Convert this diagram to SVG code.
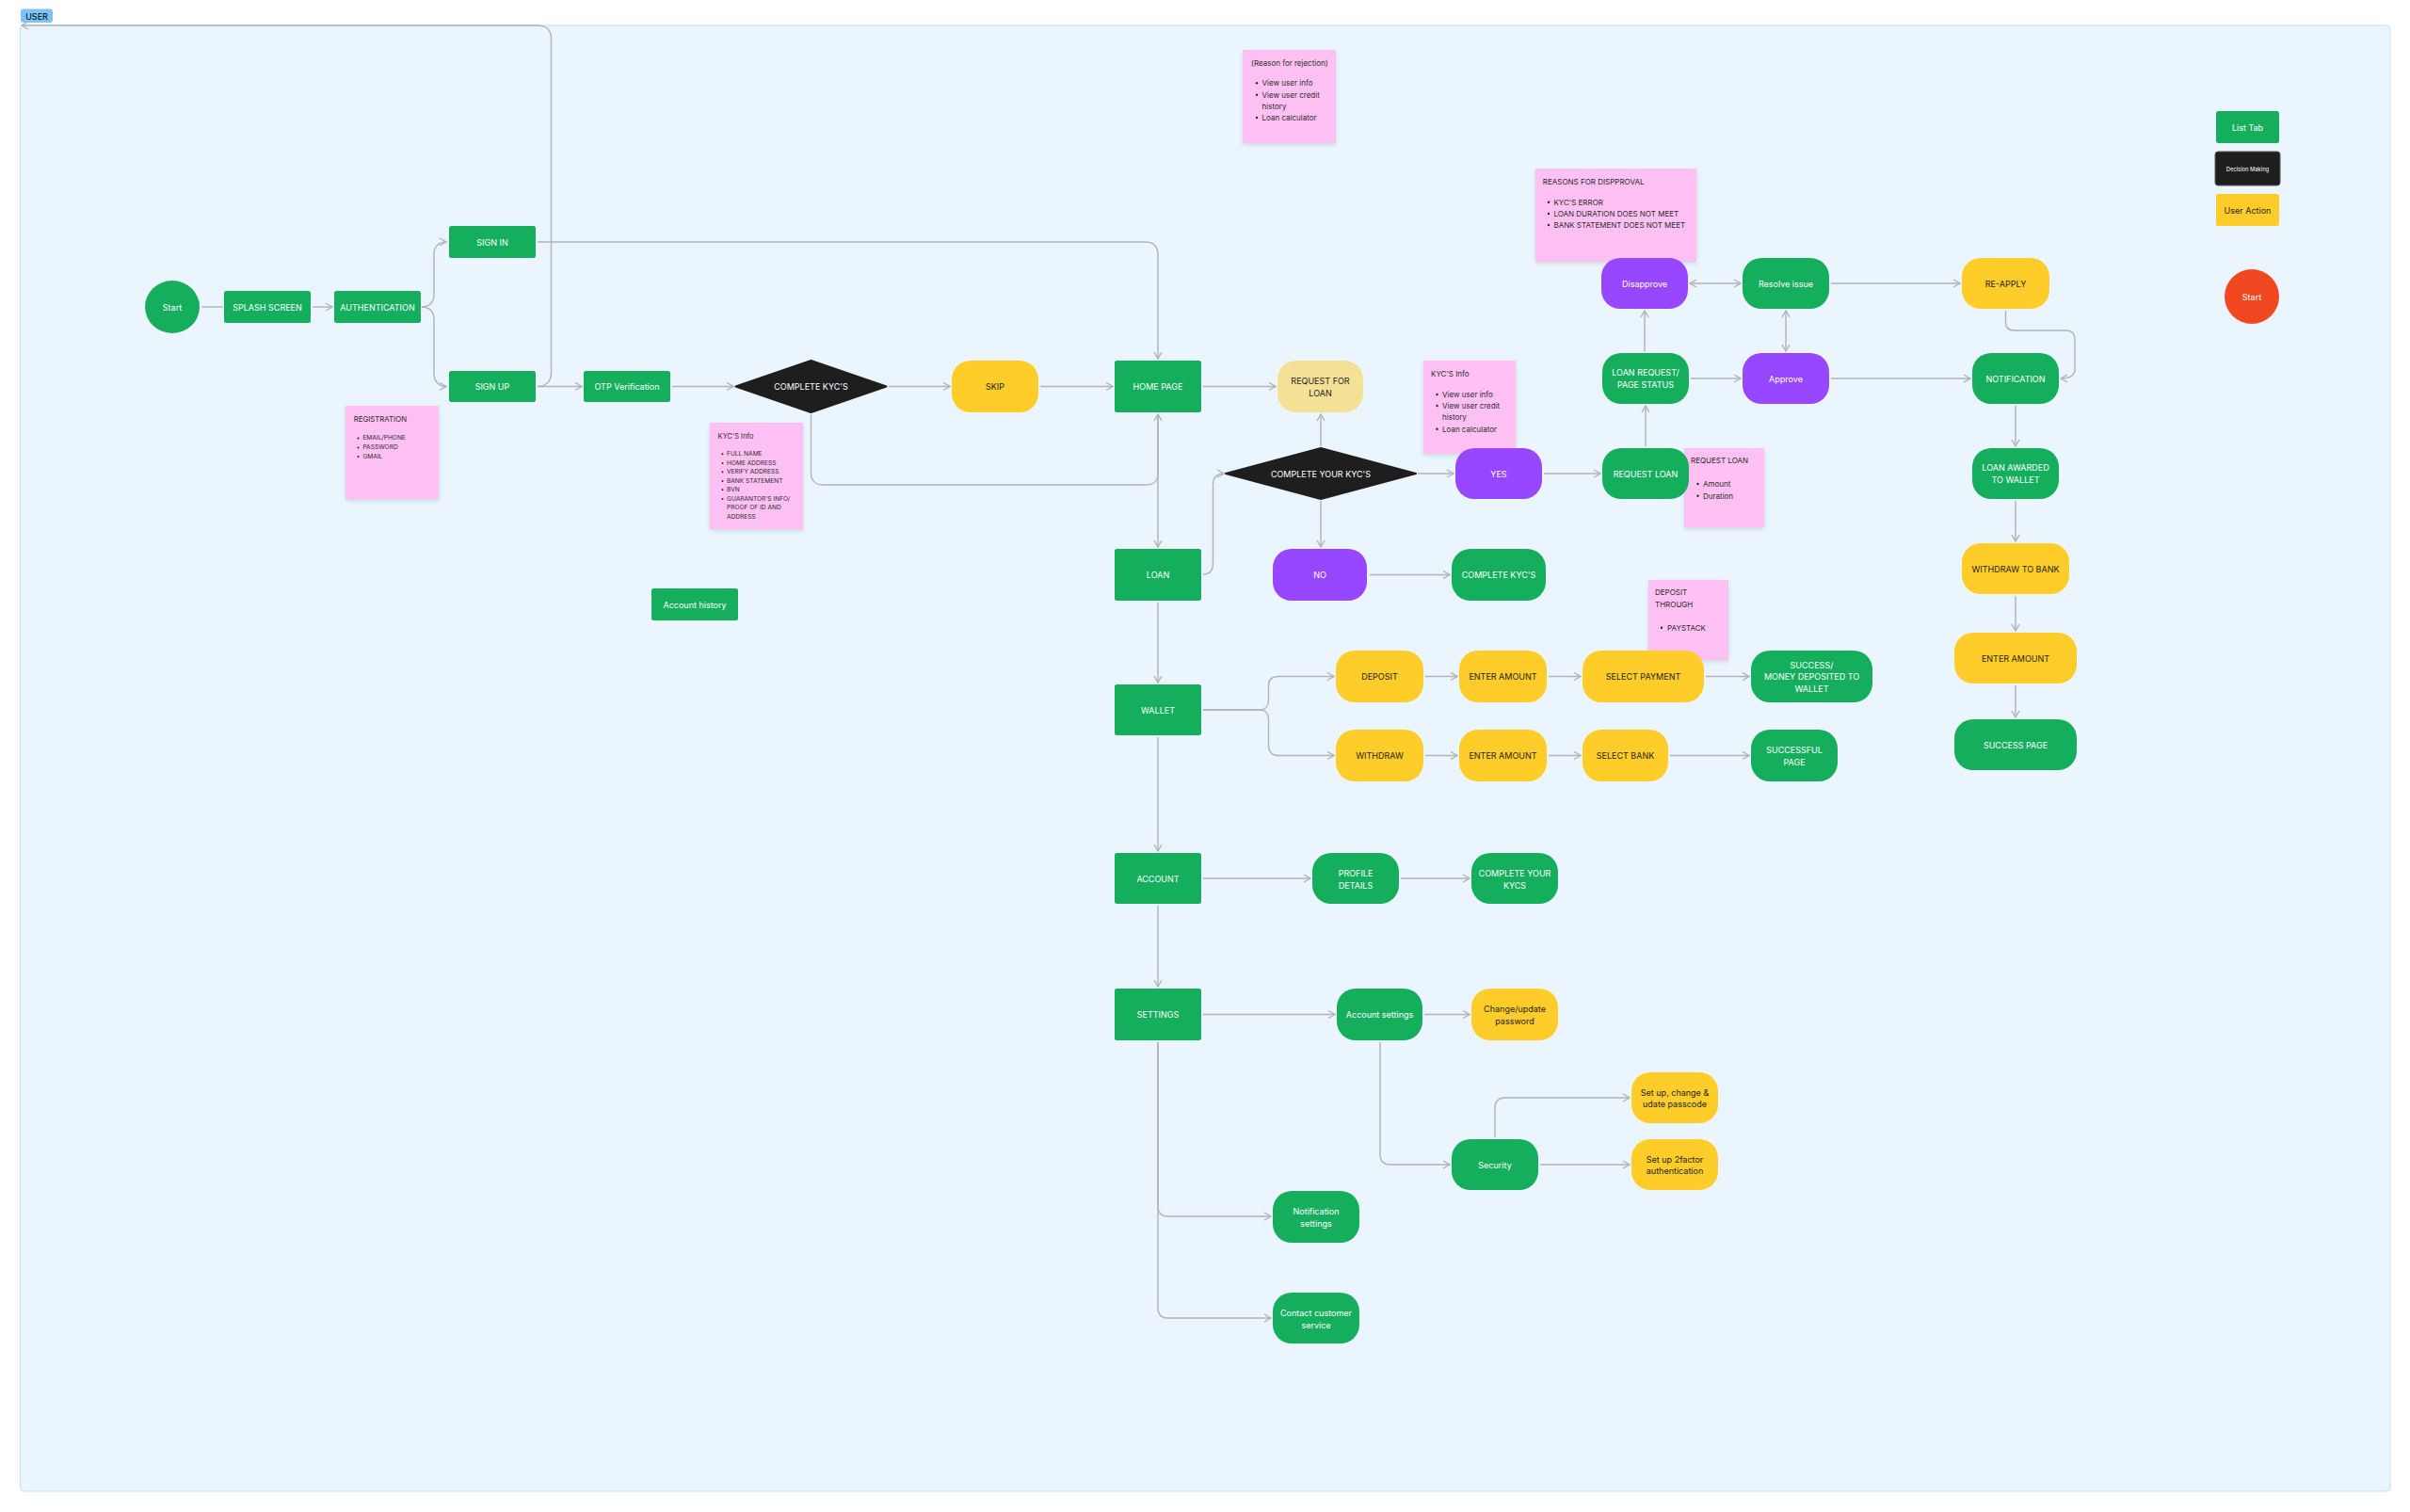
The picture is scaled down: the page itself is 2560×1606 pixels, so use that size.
<svg xmlns="http://www.w3.org/2000/svg" width="2560" height="1606" viewBox="0 0 2560 1606">
<defs>
<style>
.t{font-family:Inter,"Liberation Sans",sans-serif;font-size:9px;text-anchor:middle;dominant-baseline:central}
.w{fill:#ffffff}
.d{fill:#1E1E1E}
.g{fill:#14AE5C}
.y{fill:#FFCD29}
.py{fill:#F5E196}
.p{fill:#9747FF}
.k{fill:#1E1E1E}
.st{fill:#FFC1F3;filter:url(#sh)}
.n{font-family:Inter,"Liberation Sans",sans-serif;fill:#2b2b2b;dominant-baseline:central}
.n8{font-size:8px}
.n7{font-size:6.6px}
.b{fill:#2b2b2b}
.c{fill:none;stroke:#B3B3B3;stroke-width:1.4}
.a{marker-end:url(#ar)}
.aa{marker-end:url(#ar);marker-start:url(#ar)}
</style>
<marker id="ar" viewBox="0 0 10 10" refX="9" refY="5" markerWidth="10" markerHeight="10" markerUnits="userSpaceOnUse" orient="auto-start-reverse">
<path d="M2,1 L9,5 L2,9" fill="none" stroke="#B3B3B3" stroke-width="1.4"/>
</marker>
<filter id="sh" x="-10%" y="-10%" width="130%" height="130%">
<feDropShadow dx="0" dy="2" stdDeviation="2" flood-color="#000" flood-opacity="0.12"/>
</filter>
</defs>
<rect width="2560" height="1606" fill="#ffffff"/>
<g id="frame">
<rect x="21.5" y="27" width="2517.5" height="1557" rx="4" fill="#EBF5FE" stroke="#BDE3FF" stroke-width="1"/>
<rect x="22" y="9.5" width="34" height="14.5" rx="3" fill="#7CC4F8"/>
<text x="39" y="17" class="t" fill="#000">USER</text>
</g>

<g id="notes">
<g id="note-rejection">
<rect class="st" x="1320" y="53" width="99" height="99"/>
<text class="n n8" x="1329" y="67">(Reason for rejection)</text>
<circle class="b" cx="1335" cy="88.3" r="1.2"/><text class="n n8" x="1340.6" y="88.3">View user info</text>
<circle class="b" cx="1335" cy="100.7" r="1.2"/><text class="n n8" x="1340.6" y="100.7">View user credit</text>
<text class="n n8" x="1340.6" y="112.7">history</text>
<circle class="b" cx="1335" cy="125" r="1.2"/><text class="n n8" x="1340.6" y="125">Loan calculator</text>
</g>
<g id="note-disapproval">
<rect class="st" x="1631" y="179" width="171" height="99"/>
<text class="n n8" x="1638.8" y="193.3">REASONS FOR DISPPROVAL</text>
<circle class="b" cx="1645" cy="214.7" r="1.2"/><text class="n n8" x="1650.4" y="214.7">KYC'S ERROR</text>
<circle class="b" cx="1645" cy="227" r="1.2"/><text class="n n8" x="1650.4" y="227">LOAN DURATION DOES NOT MEET</text>
<circle class="b" cx="1645" cy="239" r="1.2"/><text class="n n8" x="1650.4" y="239">BANK STATEMENT DOES NOT MEET</text>
</g>
<g id="note-kyc2">
<rect class="st" x="1512" y="383" width="98" height="99"/>
<text class="n n8" x="1520" y="397.3">KYC'S Info</text>
<circle class="b" cx="1526.5" cy="419" r="1.2"/><text class="n n8" x="1532" y="419">View user info</text>
<circle class="b" cx="1526.5" cy="431" r="1.2"/><text class="n n8" x="1532" y="431">View user credit</text>
<text class="n n8" x="1532" y="443.3">history</text>
<circle class="b" cx="1526.5" cy="455.7" r="1.2"/><text class="n n8" x="1532" y="455.7">Loan calculator</text>
</g>
<g id="note-requestloan">
<rect class="st" x="1789" y="476" width="85" height="84"/>
<text class="n n8" x="1796" y="488.7">REQUEST LOAN</text>
<circle class="b" cx="1803.5" cy="514" r="1.2"/><text class="n n8" x="1809" y="514">Amount</text>
<circle class="b" cx="1803.5" cy="526.7" r="1.2"/><text class="n n8" x="1809" y="526.7">Duration</text>
</g>
<g id="note-deposit">
<rect class="st" x="1751" y="616" width="85" height="85"/>
<text class="n n8" x="1758" y="629.3">DEPOSIT</text>
<text class="n n8" x="1758" y="641.7">THROUGH</text>
<circle class="b" cx="1765" cy="666.7" r="1.2"/><text class="n n8" x="1771" y="666.7">PAYSTACK</text>
</g>
<g id="note-kyc1">
<rect class="st" x="754" y="449" width="99" height="113"/>
<text class="n" style="font-size:7.5px" x="762.6" y="463">KYC'S Info</text>
<circle class="b" cx="767.5" cy="482.3" r="1"/><text class="n n7" x="772" y="482.3">FULL NAME</text>
<circle class="b" cx="767.5" cy="492" r="1"/><text class="n n7" x="772" y="492">HOME ADDRESS</text>
<circle class="b" cx="767.5" cy="501.3" r="1"/><text class="n n7" x="772" y="501.3">VERIFY ADDRESS</text>
<circle class="b" cx="767.5" cy="511" r="1"/><text class="n n7" x="772" y="511">BANK STATEMENT</text>
<circle class="b" cx="767.5" cy="520.3" r="1"/><text class="n n7" x="772" y="520.3">BVN</text>
<circle class="b" cx="767.5" cy="530" r="1"/><text class="n n7" x="772" y="530">GUARANTOR'S INFO/</text>
<text class="n n7" x="772" y="539.3">PROOF OF ID AND</text>
<text class="n n7" x="772" y="548.7">ADDRESS</text>
</g>
<g id="note-registration">
<rect class="st" x="367" y="431" width="99" height="99"/>
<text class="n" style="font-size:7.8px" x="375.7" y="445.4">REGISTRATION</text>
<circle class="b" cx="380.5" cy="465.4" r="1"/><text class="n n7" x="385.4" y="465.4">EMAIL/PHONE</text>
<circle class="b" cx="380.5" cy="475.4" r="1"/><text class="n n7" x="385.4" y="475.4">PASSWORD</text>
<circle class="b" cx="380.5" cy="485" r="1"/><text class="n n7" x="385.4" y="485">GMAIL</text>
</g>
</g>

<g id="connectors">
<path class="c" d="M214,326 H237"/>
<path class="c a" d="M332,326 H353"/>
<path class="c a" d="M448,326 C456,326 461,321 461,313 V270 C461,262 466,257 474,257"/>
<path class="c a" d="M448,326 C456,326 461,331 461,339 V397 C461,405 466,410.5 474,410.5"/>
<path class="c a" d="M571,410.5 H618"/>
<path class="c a" d="M571,410.5 C580,410.5 585.5,405 585.5,396 V41 C585.5,32 580,27 571,27 H23"/>
<path class="c a" d="M571,257 H1216 C1225,257 1230,262 1230,271 V381"/>
<path class="c a" d="M714,410.5 H779"/>
<path class="c a" d="M944,410.5 H1009"/>
<path class="c a" d="M1105,410.5 H1182"/>
<path class="c a" d="M861.5,440 V503 C861.5,510 866,515 874,515 H1218 C1226,515 1230,510 1230,503 V440"/>
<path class="c a" d="M1230,440 V581"/>
<path class="c a" d="M1278,410.5 H1355"/>
<path class="c a" d="M1278,610 C1285,610 1288.5,606 1288.5,598 V515 C1288.5,507 1292,503 1300,503"/>
<path class="c a" d="M1403,474 V440"/>
<path class="c a" d="M1506,503 H1544"/>
<path class="c a" d="M1403,532 V581"/>
<path class="c a" d="M1455,610.5 H1540"/>
<path class="c a" d="M1640,503 H1700"/>
<path class="c a" d="M1748,474 V431"/>
<path class="c a" d="M1747,373 V330"/>
<path class="c a" d="M1796,402 H1849"/>
<path class="c aa" d="M1795,301 H1849"/>
<path class="c aa" d="M1897,330 V373"/>
<path class="c a" d="M1945,301 H2082"/>
<path class="c a" d="M1945,402 H2093"/>
<path class="c a" d="M2130.5,330 V343 C2130.5,348 2134,351 2140,351 H2195 C2201,351 2204,355 2204,361 V392 C2204,399 2199,402 2189,402"/>
<path class="c a" d="M2141,431 V474"/>
<path class="c a" d="M2141,532 V575"/>
<path class="c a" d="M2141,633 V670"/>
<path class="c a" d="M2141,728 V762"/>
<path class="c a" d="M1230,640 V725"/>
<path class="c a" d="M1278,754 H1338 C1344,754 1347.5,750 1347.5,744 V728 C1347.5,722 1351,718.5 1358,718.5 H1417"/>
<path class="c a" d="M1278,754 H1338 C1344,754 1347.5,758 1347.5,764 V792 C1347.5,798 1351,802.5 1358,802.5 H1417"/>
<path class="c a" d="M1514,718.5 H1548"/>
<path class="c a" d="M1645,718.5 H1679"/>
<path class="c a" d="M1812,718.5 H1858"/>
<path class="c a" d="M1514,802.5 H1548"/>
<path class="c a" d="M1645,802.5 H1679"/>
<path class="c a" d="M1774,802.5 H1858"/>
<path class="c a" d="M1230,783 V904"/>
<path class="c a" d="M1278,933 H1392"/>
<path class="c a" d="M1488,933 H1561"/>
<path class="c a" d="M1230,962 V1048"/>
<path class="c a" d="M1278,1077.5 H1418"/>
<path class="c a" d="M1513,1077.5 H1561"/>
<path class="c a" d="M1466,1107 V1227 C1466,1233 1470,1237 1476,1237 H1540"/>
<path class="c a" d="M1588,1208 V1176 C1588,1170 1592,1166 1598,1166 H1731"/>
<path class="c a" d="M1636,1237 H1731"/>
<path class="c a" d="M1230,1107 V1282 C1230,1288 1234,1292 1240,1292 H1350"/>
<path class="c a" d="M1230,1107 V1390 C1230,1396 1234,1400 1240,1400 H1350"/>
</g>

<g id="n-start"><ellipse class="g" cx="183" cy="326" rx="29" ry="28"/><text class="t w" x="183" y="326">Start</text></g>
<g id="n-splash"><rect class="g" x="238" y="309" width="92" height="34" rx="2.5"/><text class="t w" x="284" y="326">SPLASH SCREEN</text></g>
<g id="n-auth"><rect class="g" x="355" y="309" width="92" height="34" rx="2.5"/><text class="t w" x="401" y="326">AUTHENTICATION</text></g>
<g id="n-signin"><rect class="g" x="477" y="240" width="92" height="34" rx="2.5"/><text class="t w" x="523" y="257">SIGN IN</text></g>
<g id="n-signup"><rect class="g" x="477" y="394" width="92" height="33" rx="2.5"/><text class="t w" x="523" y="410.5">SIGN UP</text></g>
<g id="n-otp"><rect class="g" x="620" y="394" width="92" height="33" rx="2.5"/><text class="t w" x="666" y="410.5">OTP Verification</text></g>
<g id="n-kyc1"><polygon class="k" points="781.5,410.5 861.5,383 941.5,410.5 861.5,438" stroke="#1E1E1E" stroke-width="2" stroke-linejoin="round"/><text class="t w" x="861.5" y="410.5">COMPLETE KYC'S</text></g>
<g id="n-skip"><rect class="y" x="1011" y="383" width="92" height="55" rx="20"/><text class="t d" x="1057" y="410.5">SKIP</text></g>
<g id="n-home"><rect class="g" x="1184" y="383" width="92" height="55" rx="2.5"/><text class="t w" x="1230" y="410.5">HOME PAGE</text></g>
<g id="n-reqforloan"><rect class="py" x="1357" y="383" width="91" height="55" rx="20"/><text class="t d" x="1402.5" y="404.3">REQUEST FOR</text><text class="t d" x="1402.5" y="417">LOAN</text></g>
<g id="n-kyc2"><polygon class="k" points="1302,503 1403,476 1504,503 1403,530" stroke="#1E1E1E" stroke-width="2" stroke-linejoin="round"/><text class="t w" x="1403" y="503">COMPLETE YOUR KYC'S</text></g>
<g id="n-yes"><rect class="p" x="1546" y="476" width="92" height="54" rx="20"/><text class="t w" x="1592" y="503">YES</text></g>
<g id="n-requestloan"><rect class="g" x="1702" y="476" width="92" height="54" rx="20"/><text class="t w" x="1748" y="503">REQUEST LOAN</text></g>
<g id="n-loanstatus"><rect class="g" x="1702" y="375" width="92" height="54" rx="20"/><text class="t w" x="1748" y="395.7">LOAN REQUEST/</text><text class="t w" x="1748" y="408.3">PAGE STATUS</text></g>
<g id="n-disapprove"><rect class="p" x="1701" y="274" width="92" height="54" rx="20"/><text class="t w" x="1747" y="301">Disapprove</text></g>
<g id="n-resolve"><rect class="g" x="1851" y="274" width="92" height="54" rx="20"/><text class="t w" x="1897" y="301">Resolve issue</text></g>
<g id="n-approve"><rect class="p" x="1851" y="375" width="92" height="54" rx="20"/><text class="t w" x="1897" y="402">Approve</text></g>
<g id="n-reapply"><rect class="y" x="2084" y="274" width="93" height="54" rx="20"/><text class="t d" x="2130.5" y="301">RE-APPLY</text></g>
<g id="n-notification"><rect class="g" x="2095" y="375" width="92" height="54" rx="20"/><text class="t w" x="2141" y="402">NOTIFICATION</text></g>
<g id="n-awarded"><rect class="g" x="2095" y="476" width="92" height="54" rx="20"/><text class="t w" x="2141" y="496.7">LOAN AWARDED</text><text class="t w" x="2141" y="509.3">TO WALLET</text></g>
<g id="n-withdrawbank"><rect class="y" x="2084" y="577" width="114" height="54" rx="20"/><text class="t d" x="2141" y="604">WITHDRAW TO BANK</text></g>
<g id="n-enteramount3"><rect class="y" x="2076" y="672" width="130" height="54" rx="20"/><text class="t d" x="2141" y="699">ENTER AMOUNT</text></g>
<g id="n-successpage"><rect class="g" x="2076" y="764" width="130" height="54" rx="20"/><text class="t w" x="2141" y="791">SUCCESS PAGE</text></g>
<g id="n-loan"><rect class="g" x="1184" y="583" width="92" height="55" rx="2.5"/><text class="t w" x="1230" y="610.5">LOAN</text></g>
<g id="n-no"><rect class="p" x="1352" y="583" width="100" height="55" rx="20"/><text class="t w" x="1402" y="610.5">NO</text></g>
<g id="n-completekyc"><rect class="g" x="1542" y="583" width="100" height="55" rx="20"/><text class="t w" x="1592" y="610.5">COMPLETE KYC'S</text></g>
<g id="n-acchistory"><rect class="g" x="692" y="625" width="92" height="34" rx="2.5"/><text class="t w" x="738" y="642">Account history</text></g>
<g id="n-wallet"><rect class="g" x="1184" y="727" width="92" height="54" rx="2.5"/><text class="t w" x="1230" y="754">WALLET</text></g>
<g id="n-deposit"><rect class="y" x="1419" y="691" width="93" height="55" rx="20"/><text class="t d" x="1465.5" y="718.5">DEPOSIT</text></g>
<g id="n-enter1"><rect class="y" x="1550" y="691" width="93" height="55" rx="20"/><text class="t d" x="1596.5" y="718.5">ENTER AMOUNT</text></g>
<g id="n-selectpayment"><rect class="y" x="1681" y="691" width="129" height="55" rx="20"/><text class="t d" x="1745.5" y="718.5">SELECT PAYMENT</text></g>
<g id="n-success"><rect class="g" x="1860" y="691" width="129" height="55" rx="20"/><text class="t w" x="1924.5" y="706">SUCCESS/</text><text class="t w" x="1924.5" y="718.5">MONEY DEPOSITED TO</text><text class="t w" x="1924.5" y="731">WALLET</text></g>
<g id="n-withdraw"><rect class="y" x="1419" y="775" width="93" height="55" rx="20"/><text class="t d" x="1465.5" y="802.5">WITHDRAW</text></g>
<g id="n-enter2"><rect class="y" x="1550" y="775" width="93" height="55" rx="20"/><text class="t d" x="1596.5" y="802.5">ENTER AMOUNT</text></g>
<g id="n-selectbank"><rect class="y" x="1681" y="775" width="91" height="55" rx="20"/><text class="t d" x="1726.5" y="802.5">SELECT BANK</text></g>
<g id="n-successful"><rect class="g" x="1860" y="775" width="92" height="55" rx="20"/><text class="t w" x="1906" y="796">SUCCESSFUL</text><text class="t w" x="1906" y="809">PAGE</text></g>
<g id="n-account"><rect class="g" x="1184" y="906" width="92" height="54" rx="2.5"/><text class="t w" x="1230" y="933">ACCOUNT</text></g>
<g id="n-profile"><rect class="g" x="1394" y="906" width="92" height="54" rx="20"/><text class="t w" x="1440" y="927">PROFILE</text><text class="t w" x="1440" y="940">DETAILS</text></g>
<g id="n-completekycs"><rect class="g" x="1563" y="906" width="92" height="54" rx="20"/><text class="t w" x="1609" y="927">COMPLETE YOUR</text><text class="t w" x="1609" y="940">KYCS</text></g>
<g id="n-settings"><rect class="g" x="1184" y="1050" width="92" height="55" rx="2.5"/><text class="t w" x="1230" y="1077.5">SETTINGS</text></g>
<g id="n-accsettings"><rect class="g" x="1420" y="1050" width="91" height="55" rx="20"/><text class="t w" x="1465.5" y="1077.5">Account settings</text></g>
<g id="n-changepw"><rect class="y" x="1563" y="1050" width="92" height="55" rx="20"/><text class="t d" x="1609" y="1071.5">Change/update</text><text class="t d" x="1609" y="1084">password</text></g>
<g id="n-passcode"><rect class="y" x="1733" y="1139" width="92" height="54" rx="20"/><text class="t d" x="1779" y="1160">Set up, change &amp;</text><text class="t d" x="1779" y="1172.5">udate passcode</text></g>
<g id="n-security"><rect class="g" x="1542" y="1210" width="92" height="54" rx="20"/><text class="t w" x="1588" y="1237">Security</text></g>
<g id="n-2factor"><rect class="y" x="1733" y="1210" width="92" height="54" rx="20"/><text class="t d" x="1779" y="1231">Set up 2factor</text><text class="t d" x="1779" y="1243.5">authentication</text></g>
<g id="n-notifsettings"><rect class="g" x="1352" y="1265" width="92" height="55" rx="20"/><text class="t w" x="1398" y="1286">Notification</text><text class="t w" x="1398" y="1299">settings</text></g>
<g id="n-contact"><rect class="g" x="1352" y="1373" width="92" height="54" rx="20"/><text class="t w" x="1398" y="1394">Contact customer</text><text class="t w" x="1398" y="1407">service</text></g>

<g id="legend">
<g id="l-listtab"><rect class="g" x="2354" y="118" width="67" height="34" rx="2.5"/><text class="t w" x="2387.5" y="135">List Tab</text></g>
<g id="l-decision"><rect class="k" x="2353" y="161" width="69" height="36" rx="3" stroke="#5a5a5a" stroke-width="1"/><text class="t w" style="font-size:5.8px" x="2387.5" y="179">Decision Making</text></g>
<g id="l-useraction"><rect class="y" x="2354" y="206" width="67" height="34" rx="2.5"/><text class="t d" x="2387.5" y="223">User Action</text></g>
<g id="l-start"><circle cx="2392" cy="315" r="29" fill="#F24822"/><text class="t w" x="2392" y="315">Start</text></g>
</g>
</svg>
